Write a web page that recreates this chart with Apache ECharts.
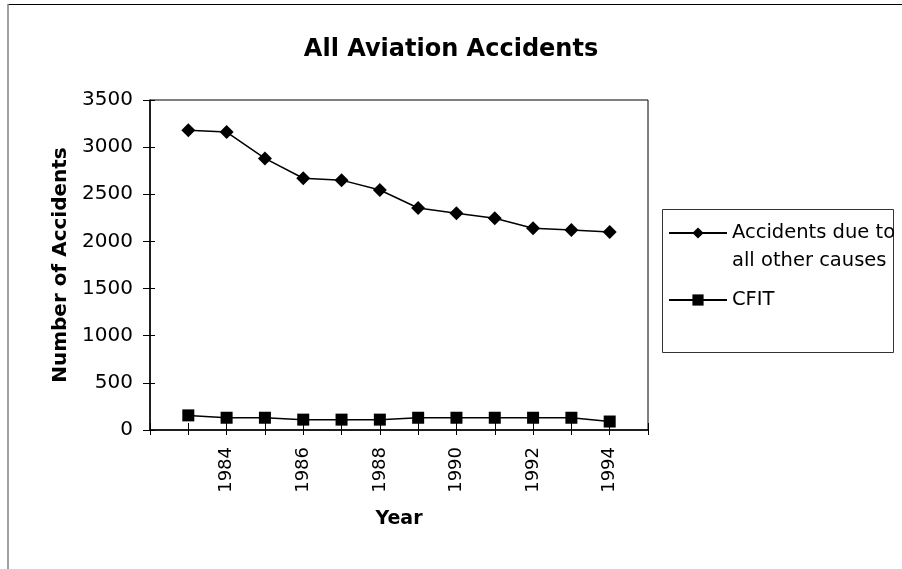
<!DOCTYPE html>
<html>
<head>
<meta charset="utf-8">
<script src="https://cdn.jsdelivr.net/npm/echarts@6/dist/echarts.min.js"></script>
<style>html,body{margin:0;padding:0;background:#fff;}#c{width:902px;height:569px;}</style>
</head>
<body>
<div id="c"></div>
<script>
const years = [1983, 1984, 1985, 1986, 1987, 1988, 1989, 1990, 1991, 1992, 1993, 1994];
const otherCauses = [3180, 3160, 2880, 2670, 2650, 2545, 2355, 2300, 2245, 2140, 2120, 2100];
const cfit = [155, 130, 130, 110, 110, 110, 130, 130, 130, 130, 130, 90];
const yTicks = [0, 500, 1000, 1500, 2000, 2500, 3000, 3500];
const seriesNames = ['Accidents due to all other causes', 'CFIT'];

const chart = echarts.init(document.getElementById('c'), null, {renderer: 'canvas'});
const font = 'DejaVu Sans, sans-serif';
const xBase = {
  type: 'value', min: 1982, max: 1995, interval: 1,
  splitLine: {show: false}
};
const yBase = {
  type: 'value', min: yTicks[0], max: yTicks[yTicks.length - 1], interval: 500,
  splitLine: {show: false}
};
chart.setOption({
  animation: false,
  backgroundColor: '#fff',
  title: {
    text: 'All Aviation Accidents', left: 'center', top: 33,
    textStyle: {fontFamily: font, fontSize: 24, fontWeight: 'bold', color: '#000'}
  },
  grid: {left: 150, top: 100, right: 254, bottom: 139, show: true, borderColor: '#000', borderWidth: 1, containLabel: false},
  legend: {
    orient: 'vertical', left: 668, top: 191, padding: 0, itemGap: 11,
    itemWidth: 58, itemHeight: 14,
    data: seriesNames,
    formatter: function (n) { return n === seriesNames[0] ? '\nAccidents due to\nall other causes' : n; },
    textStyle: {fontFamily: font, fontSize: 19.5, color: '#000', lineHeight: 28}
  },
  xAxis: [
    Object.assign({}, xBase, {
      position: 'bottom',
      name: 'Year', nameLocation: 'middle', nameGap: 80,
      nameTextStyle: {fontFamily: font, fontSize: 19, fontWeight: 'bold', color: '#000'},
      axisLine: {show: true, lineStyle: {color: '#000', width: 1.5}},
      axisTick: {show: true, inside: false, length: 5, lineStyle: {color: '#000'}},
      axisLabel: {
        rotate: 90, margin: 17, fontFamily: font, fontSize: 18, color: '#000',
        showMinLabel: true, showMaxLabel: true,
        formatter: function (v) { return (v % 2 === 0 && v >= years[1] && v <= years[years.length - 1]) ? String(v) : ''; }
      }
    }),
    Object.assign({}, xBase, {
      position: 'bottom',
      axisLine: {show: true, onZero: false, lineStyle: {color: 'rgba(0,0,0,0)'}},
      axisTick: {show: true, inside: true, length: 7, lineStyle: {color: '#000'}},
      axisLabel: {show: false}
    })
  ],
  yAxis: [
    Object.assign({}, yBase, {
      position: 'left',
      name: 'Number of Accidents', nameLocation: 'middle', nameGap: 77,
      nameTextStyle: {fontFamily: font, fontSize: 20, fontWeight: 'bold', color: '#000'},
      axisLine: {show: true, lineStyle: {color: '#000', width: 1.5}},
      axisTick: {show: true, inside: false, length: 7, lineStyle: {color: '#000'}},
      axisLabel: {margin: 17, fontFamily: font, fontSize: 20, color: '#000', formatter: function (v) { return String(v); }}
    }),
    Object.assign({}, yBase, {
      position: 'left',
      axisLine: {show: true, onZero: false, lineStyle: {color: 'rgba(0,0,0,0)'}},
      axisTick: {show: true, inside: true, length: 5, lineStyle: {color: '#000'}},
      axisLabel: {show: false}
    })
  ],
  series: [
    {
      name: seriesNames[0], type: 'line', xAxisIndex: 0, yAxisIndex: 0,
      data: years.map((y, i) => [y, otherCauses[i]]),
      symbol: 'diamond', symbolSize: 14,
      lineStyle: {color: '#000', width: 1.5}, itemStyle: {color: '#000'}
    },
    {
      name: seriesNames[1], type: 'line', xAxisIndex: 0, yAxisIndex: 0,
      data: years.map((y, i) => [y, cfit[i]]),
      symbol: 'rect', symbolSize: 12,
      lineStyle: {color: '#000', width: 1.5}, itemStyle: {color: '#000'}
    }
  ],
  graphic: [
    {type: 'line', shape: {x1: 8, y1: 4.5, x2: 902, y2: 4.5}, style: {stroke: '#000', lineWidth: 1}},
    {type: 'line', shape: {x1: 8, y1: 4, x2: 8, y2: 569}, style: {stroke: '#808080', lineWidth: 1.5}},
    {type: 'rect', shape: {x: 662.5, y: 209.5, width: 231, height: 143}, style: {fill: 'none', stroke: '#333', lineWidth: 1}, z: -1}
  ]
});
</script>
</body>
</html>
